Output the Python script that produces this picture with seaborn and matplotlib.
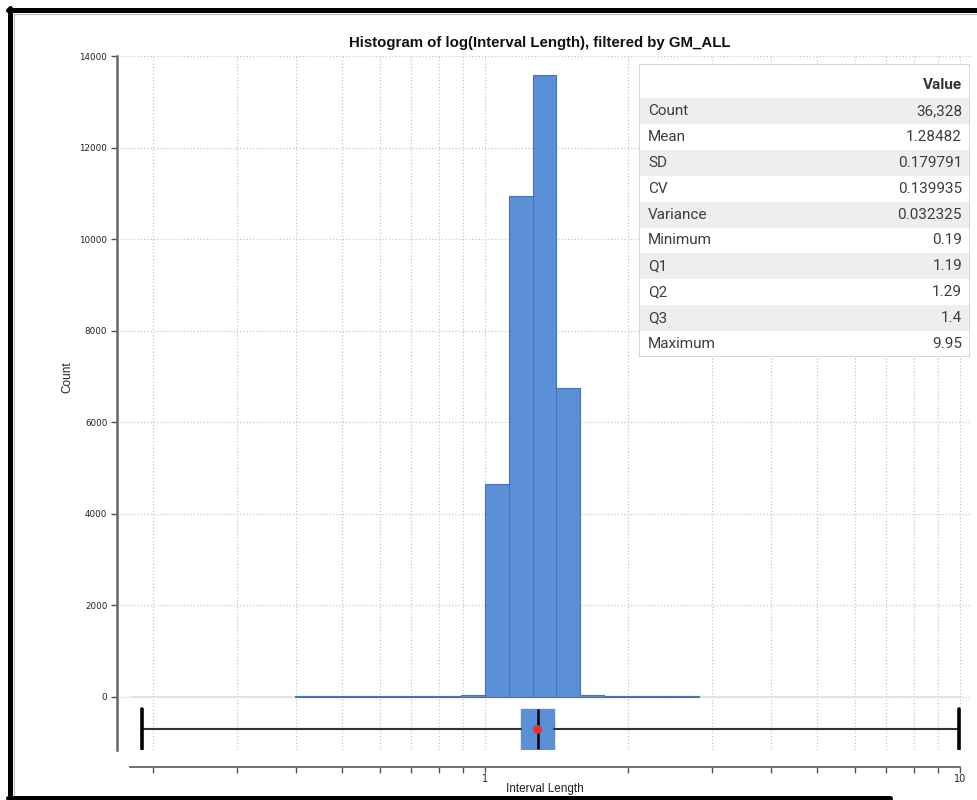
import numpy as np
import pandas as pd
import matplotlib
matplotlib.use("Agg")
import matplotlib.pyplot as plt
from matplotlib.patches import Rectangle
from matplotlib.lines import Line2D
from matplotlib.ticker import FixedLocator, FixedFormatter, NullFormatter
import seaborn as sns

# Histogram bins, given as log10 edges, and the count in each bin
bin_edges_log = [-0.40, -0.35, -0.30, -0.25, -0.20, -0.15, -0.10, -0.05, 0.00,
                 0.05, 0.10, 0.15, 0.20, 0.25, 0.30, 0.35, 0.40, 0.45]
bin_counts = [16, 17, 18, 17, 19, 21, 23, 46, 4650,
              10950, 13600, 6750, 48, 20, 18, 17, 16]

# Summary statistics table
stat_names = ["Count", "Mean", "SD", "CV", "Variance",
              "Minimum", "Q1", "Q2", "Q3", "Maximum"]
stat_values = ["36,328", "1.28482", "0.179791", "0.139935", "0.032325",
               "0.19", "1.19", "1.29", "1.4", "9.95"]

# Five-number summary and mean for the box plot
box_min, box_q1, box_med, box_q3, box_max = 0.19, 1.19, 1.29, 1.4, 9.95
box_mean = 1.28482

y_ticks = [0, 2000, 4000, 6000, 8000, 10000, 12000, 14000]
x_major = [1, 10]
x_major_labels = ["1", "10"]
x_minor = [0.2, 0.3, 0.4, 0.5, 0.6, 0.7, 0.8, 0.9, 2, 3, 4, 5, 6, 7, 8, 9]

BLUE = "#5b8fd6"
EDGE = "#4473b8"
W, H = 977, 800

sns.set_style("white")
plt.rcParams["font.family"] = ["Liberation Sans", "DejaVu Sans"]

fig = plt.figure(figsize=(W / 100, H / 100), dpi=100)


def fx(px):
    return px / W


def fy(py):
    return 1 - py / H


ax = fig.add_axes([fx(117), fy(750), fx(970) - fx(117), fy(56) - fy(750)])

centers = [10 ** ((a + b) / 2) for a, b in zip(bin_edges_log[:-1], bin_edges_log[1:])]
df = pd.DataFrame({"length": centers, "count": bin_counts})

sns.histplot(data=df, x="length", weights="count", bins=bin_edges_log,
             log_scale=True, color=BLUE, edgecolor=EDGE, linewidth=0.8,
             alpha=1.0, ax=ax, zorder=3)

# Box plot of the same variable, drawn below the zero line
stats = [dict(whislo=box_min, q1=box_q1, med=box_med, q3=box_q3,
              whishi=box_max, mean=box_mean, fliers=[])]
ax.bxp(stats, positions=[-700], widths=[870], capwidths=[870],
       orientation="horizontal", patch_artist=True, showmeans=True,
       showfliers=False, manage_ticks=False,
       boxprops=dict(facecolor=BLUE, edgecolor=BLUE, linewidth=1),
       medianprops=dict(color="black", linewidth=1.8),
       whiskerprops=dict(color="#333333", linewidth=1.5),
       capprops=dict(color="black", linewidth=2.6),
       meanprops=dict(marker="o", markerfacecolor="#e8332f",
                      markeredgecolor="#e8332f", markersize=5.5))

ax.set_xlim(10 ** ((117 - 485) / 475), 10 ** ((970 - 485) / 475))
ax.set_ylim(-1160, 14010)

# Solid zero line across the plotting range
ax.hlines(0, 10 ** ((130 - 485) / 475), 10, color="#e3e3e3", linewidth=1.6, zorder=1)

ax.set_yticks(y_ticks)
ax.yaxis.set_major_formatter(FixedFormatter([str(v) for v in y_ticks]))
ax.xaxis.set_major_locator(FixedLocator(x_major))
ax.xaxis.set_major_formatter(FixedFormatter(x_major_labels))
ax.xaxis.set_minor_locator(FixedLocator(x_minor))
ax.xaxis.set_minor_formatter(NullFormatter())

ax.grid(which="both", axis="x", linestyle=":", color="#c8c8c8", linewidth=0.9)
ax.grid(which="major", axis="y", linestyle=":", color="#c8c8c8", linewidth=0.9)
ax.set_axisbelow(True)

for side in ("top", "right"):
    ax.spines[side].set_visible(False)
ax.spines["left"].set_color("#666666")
ax.spines["left"].set_linewidth(1.8)
ax.spines["bottom"].set_color("#555555")
ax.spines["bottom"].set_linewidth(1.2)
ax.spines["bottom"].set_position(("outward", 12))
ax.spines["bottom"].set_bounds(10 ** ((130 - 485) / 475), 10)

ax.tick_params(axis="both", which="both", direction="out", color="#555555",
               labelcolor="#222222", labelsize=6.3)
ax.tick_params(axis="x", which="both", length=4, width=1, bottom=True, pad=1.5,
               labelsize=7)
ax.tick_params(axis="y", length=4, width=1, left=True, pad=3)
for lab in ax.get_xticklabels() + ax.get_yticklabels():
    lab.set_family("DejaVu Sans")

ax.set_xlabel("")
ax.set_ylabel("")

fig.text(fx(540), fy(43), "Histogram of log(Interval Length), filtered by GM_ALL",
         ha="center", va="center", fontsize=10.8, fontweight="bold", color="#111111")
fig.text(fx(67), fy(377), "Count", ha="center", va="center", rotation=90,
         fontsize=8.5, color="#222222")
fig.text(fx(545), fy(789), "Interval Length", ha="center", va="center",
         fontsize=8.5, color="#222222")

# Statistics table in the upper right
tab = fig.add_axes([fx(639), fy(357), fx(970) - fx(639), fy(64) - fy(357)])
tab.set_xlim(639, 970)
tab.set_ylim(357, 64)
tab.axis("off")
tab.add_patch(Rectangle((639, 64), 331, 293, facecolor="white",
                        edgecolor="#cfcfcf", linewidth=1.2, zorder=0))
row_h = 25.9
top0 = 98
tab.text(962, 85, "Value", ha="right", va="center", fontsize=11,
         fontweight="bold", family="Roboto", color="#333333")
for i, (name, val) in enumerate(zip(stat_names, stat_values)):
    top = top0 + i * row_h
    if i % 2 == 0:
        tab.add_patch(Rectangle((640, top), 329, row_h, facecolor="#eeeeee",
                                edgecolor="none", zorder=1))
    yc = top + row_h / 2
    tab.text(648, yc, name, ha="left", va="center", fontsize=11,
             family="Roboto", color="#3d3d3d", zorder=2)
    tab.text(962, yc, val, ha="right", va="center", fontsize=11,
             family="Roboto", color="#3d3d3d", zorder=2)

# Window frame around the chart
frame_kw = dict(color="black", linewidth=3.6, transform=fig.transFigure)
fig.add_artist(Line2D([fx(8), fx(977)], [fy(10), fy(10)], **frame_kw))
fig.add_artist(Line2D([fx(10), fx(10)], [fy(8), fy(800)], **frame_kw))
fig.add_artist(Line2D([fx(8), fx(890)], [fy(798), fy(798)], **frame_kw))
thin_kw = dict(color="#bbbbbb", linewidth=0.8, transform=fig.transFigure)
fig.add_artist(Line2D([fx(14), fx(977)], [fy(14), fy(14)], **thin_kw))
fig.add_artist(Line2D([fx(14), fx(14)], [fy(14), fy(795)], **thin_kw))

fig.savefig("out.png", dpi=100, facecolor="white")
